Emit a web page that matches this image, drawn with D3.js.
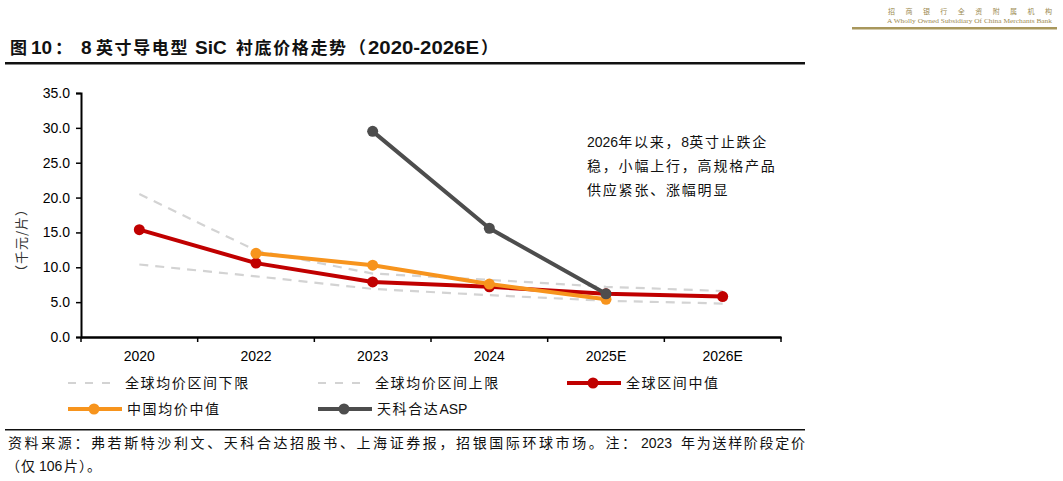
<!DOCTYPE html>
<html><head><meta charset="utf-8">
<script src="https://cdn.jsdelivr.net/npm/d3@7"></script>
<style>
html,body{margin:0;padding:0;background:#fff;}
svg{display:block;font-family:"Liberation Sans","Noto Sans CJK SC",sans-serif;}
</style></head>
<body><svg id="chart" width="1063" height="481"></svg>
<script>
const categories = ["2020","2022","2023","2024","2025E","2026E"];
const lowerBound = [10.4, 8.7, 6.9, 6.0, 5.2, 4.8];
const upperBound = [20.5, 12.4, 9.1, 8.2, 7.2, 6.6];
const globalMid  = [15.4, 10.6, 7.9, 7.2, 6.2, 5.8];
const chinaMid   = [null, 12.0, 10.3, 7.6, 5.4, null];
const tankeASP   = [null, null, 29.5, 15.6, 6.2, null];
const yTicks = [0,5,10,15,20,25,30,35];
const seriesNames = ["全球均价区间下限","全球均价区间上限","全球区间中值","中国均价中值","天科合达ASP"];
const titleRuns = ["图","10","：","8","英寸导电型","SiC","衬底价格走势","（","2020-2026E","）"];
const noteLines = ["2026年以来，8英寸止跌企","稳，小幅上行，高规格产品","供应紧张、涨幅明显"];

const svg = d3.select("#chart");
const CJKF = "\"Noto Sans CJK SC\",sans-serif";
const LATF = "\"Liberation Sans\",Arial,sans-serif";
const cjkRe = /[\u3000-\u303f\u4e00-\u9fff\uff00-\uffef]+|[^\u3000-\u303f\u4e00-\u9fff\uff00-\uffef]+/g;
const isCjk = s => /[\u3000-\u303f\u4e00-\u9fff\uff00-\uffef]/.test(s);

// flowing rich text: CJK runs get letter-spacing, latin runs normal
function richText(parent, x, y, str, o){
  const t = parent.append("text").attr("x",x).attr("y",y).attr("fill",o.fill||"#111");
  (str.match(cjkRe)||[]).forEach(run=>{
    const c = isCjk(run);
    t.append("tspan").text(run)
      .attr("font-family", c?CJKF:LATF)
      .attr("font-size", c?o.cs:o.ls)
      .attr("font-weight", o.bold?"bold":"normal")
      .attr("letter-spacing", c?o.sp:0);
  });
  return t;
}

// header
svg.append("text").attr("x",888).attr("y",14).attr("font-size",7).attr("fill","#9c8a50")
  .attr("font-family",CJKF).attr("textLength",164).attr("lengthAdjust","spacing").text("招商银行全资附属机构");
svg.append("text").attr("x",887).attr("y",23).attr("font-size",6.5).attr("fill","#9c8a50")
  .attr("font-family","Liberation Serif,serif").attr("textLength",165).attr("lengthAdjust","spacingAndGlyphs")
  .text("A Wholly Owned Subsidiary Of China Merchants Bank");
svg.append("rect").attr("x",852).attr("y",27).attr("width",205).attr("height",2.5).attr("fill","#a8975c");

// title: runs placed at measured positions
const titleX = [10, 31, 55, 81, 96, 195, 236, 349, 368, 481];
const tt = svg.append("text").attr("y",54).attr("fill","#111").attr("font-weight","bold");
titleRuns.forEach((run,i)=>{
  const c = isCjk(run);
  const multi = run.length > 1;
  const ts = tt.append("tspan").attr("x",titleX[i]).text(run)
    .attr("font-family", c?CJKF:LATF).attr("font-size", c?17:19)
    .attr("letter-spacing", (c && multi)?1.6:0);
  if (run === "2020-2026E") ts.attr("textLength",111).attr("lengthAdjust","spacingAndGlyphs");
});
svg.append("rect").attr("x",5).attr("y",62).attr("width",800).attr("height",2.5).attr("fill","#111");

// footer
svg.append("rect").attr("x",5).attr("y",429).attr("width",800).attr("height",1.5).attr("fill","#111");
const f1 = svg.append("text").attr("y",448).attr("fill","#111").attr("font-size",14);
f1.append("tspan").attr("x",8).attr("font-family",CJKF).attr("textLength",628).attr("lengthAdjust","spacing")
  .text("资料来源：弗若斯特沙利文、天科合达招股书、上海证券报，招银国际环球市场。注：");
f1.append("tspan").attr("x",641).attr("font-family",LATF).text("2023");
f1.append("tspan").attr("x",681).attr("font-family",CJKF).attr("textLength",124).attr("lengthAdjust","spacing")
  .text("年为送样阶段定价");
const f2 = svg.append("text").attr("y",471).attr("fill","#111").attr("font-size",14);
f2.append("tspan").attr("x",6).attr("font-family",CJKF).attr("letter-spacing",1).text("（仅");
f2.append("tspan").attr("x",39).attr("font-family",LATF).text("106");
f2.append("tspan").attr("x",64).attr("font-family",CJKF).attr("letter-spacing",1).text("片）。");

// scales
const x = d3.scaleBand().domain(categories).range([81,781]).padding(0);
const cx = c => x(c) + x.bandwidth()/2;
const y = d3.scaleLinear().domain([0,35]).range([337,93]);

// y axis
const yAxis = svg.append("g").attr("transform","translate(81,0)")
  .call(d3.axisLeft(y).tickValues(yTicks).tickFormat(d3.format(".1f")).tickSize(5).tickPadding(6));
yAxis.select(".domain").attr("stroke","#000").attr("stroke-width",2);
yAxis.selectAll(".tick line").attr("stroke","#000").attr("stroke-width",1.5);
yAxis.selectAll(".tick text").attr("font-size",14).attr("fill","#000").attr("font-family",LATF);

// x axis
const xAxis = svg.append("g").attr("transform","translate(0,337)")
  .call(d3.axisBottom(x).tickSize(0).tickPadding(14));
xAxis.select(".domain").attr("stroke","#000").attr("stroke-width",2.5);
xAxis.selectAll(".tick text").attr("font-size",14).attr("fill","#000").attr("font-family",LATF);
const boundaries = categories.map(c => x(c)).concat([x(categories[categories.length-1]) + x.bandwidth()]);
xAxis.selectAll(".bt").data(boundaries).join("line").attr("class","bt")
  .attr("x1",d=>d).attr("x2",d=>d).attr("y1",0).attr("y2",5).attr("stroke","#000").attr("stroke-width",1.5);

// y label
svg.append("text").attr("transform","translate(26,240) rotate(-90)").attr("text-anchor","middle")
  .attr("font-size",13).attr("fill","#333").attr("font-family",CJKF).attr("letter-spacing",1).text("（千元/片）");

// lines
const line = d3.line().defined(d => d.v != null).x(d => cx(d.c)).y(d => y(d.v));
const toPts = arr => categories.map((c,i) => ({c, v: arr[i]}));

function dashed(arr){
  svg.append("path").datum(toPts(arr)).attr("d",line).attr("fill","none")
    .attr("stroke","#d3d3d3").attr("stroke-width",2.2).attr("stroke-dasharray","9,7");
}
dashed(lowerBound);
dashed(upperBound);

function solid(arr,color){
  const pts = toPts(arr).filter(d => d.v != null);
  svg.append("path").datum(pts).attr("d",line).attr("fill","none")
    .attr("stroke",color).attr("stroke-width",4).attr("stroke-linejoin","round");
  svg.append("g").selectAll("circle").data(pts).join("circle")
    .attr("cx",d=>cx(d.c)).attr("cy",d=>y(d.v)).attr("r",5.5).attr("fill",color);
}
solid(globalMid,"#c00000");
solid(chinaMid,"#f7941d");
solid(tankeASP,"#4d4d4d");

// annotation
noteLines.forEach((t,i)=> richText(svg, 587, 147+i*24, t, {cs:14, ls:14, sp:1.8}));

// legend
const legend = [
  {type:"dash", color:"#d3d3d3", x:68, y:383},
  {type:"dash", color:"#d3d3d3", x:318, y:383},
  {type:"line", color:"#c00000", x:567, y:383},
  {type:"line", color:"#f7941d", x:68, y:409},
  {type:"line", color:"#4d4d4d", x:318, y:409}
];
const lg = svg.append("g").selectAll("g").data(legend).join("g");
lg.filter(d=>d.type==="dash").append("line")
  .attr("x1",d=>d.x).attr("x2",d=>d.x+44).attr("y1",d=>d.y).attr("y2",d=>d.y)
  .attr("stroke",d=>d.color).attr("stroke-width",2.2).attr("stroke-dasharray","8,9");
lg.filter(d=>d.type==="line").append("line")
  .attr("x1",d=>d.x).attr("x2",d=>d.x+54).attr("y1",d=>d.y).attr("y2",d=>d.y)
  .attr("stroke",d=>d.color).attr("stroke-width",4);
lg.filter(d=>d.type==="line").append("circle")
  .attr("cx",d=>d.x+26).attr("cy",d=>d.y).attr("r",5.5).attr("fill",d=>d.color);
legend.forEach((d,i)=> richText(svg, d.x+(d.type==="dash"?57:59), d.y+5, seriesNames[i], {cs:14, ls:14, sp:1.6}));
</script>
</body></html>
